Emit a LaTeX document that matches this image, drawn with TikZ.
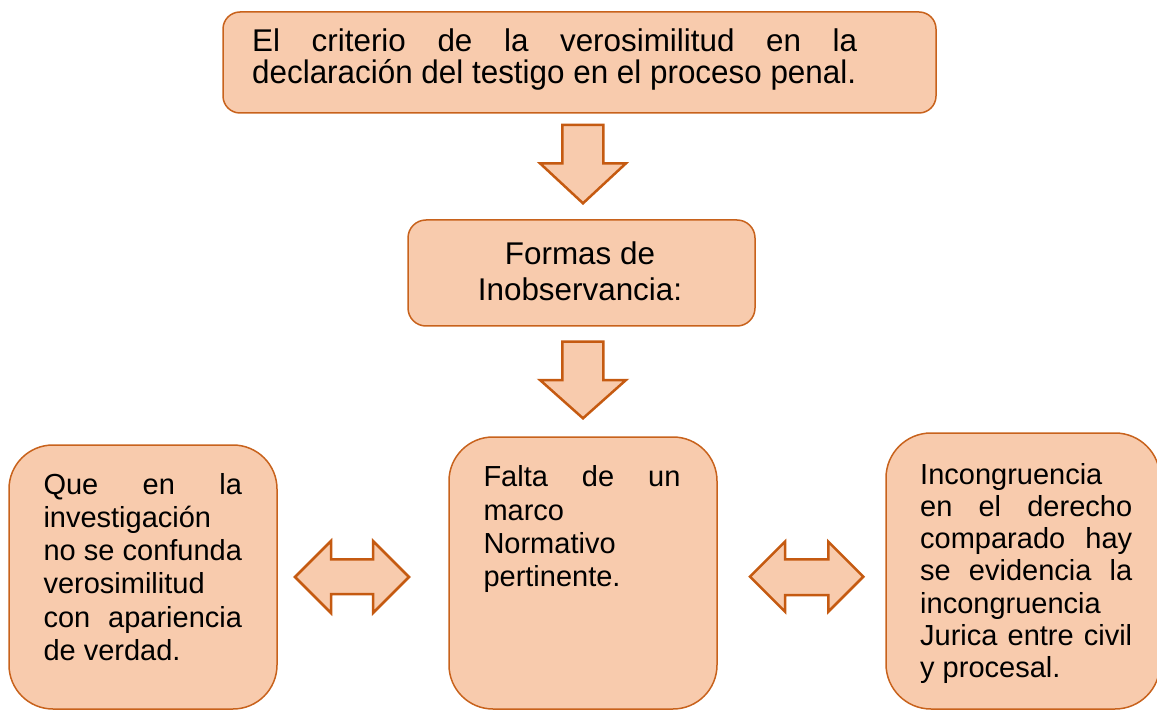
\documentclass[tikz,border=0pt]{standalone}
\usepackage{fontspec}
\setmainfont{Liberation Sans}
\definecolor{boxfill}{RGB}{248,203,173}
\definecolor{boxline}{RGB}{200,98,28}
\definecolor{arrline}{RGB}{197,90,17}
\newcommand\jline[1]{\makebox[\linewidth][s]{#1}\\}
\tikzset{
  box/.style={draw=boxline, fill=boxfill, line width=1.5pt, rectangle, rounded corners=#1, inner sep=0pt},
  txt/.style={anchor=base west, inner sep=0pt},
  barrow/.style={draw=arrline, fill=boxfill, line width=2.5pt, line join=miter}
}
\begin{document}
\begin{tikzpicture}[x=1pt,y=-1pt]
\useasboundingbox (0,0) rectangle (1157,711);
% boxes
\node[box=17, minimum width=713, minimum height=101] (top) at (579.5,62.5) {};
\node[box=18, minimum width=347, minimum height=106] (mid) at (581.5,273) {};
\node[box=44, minimum width=268, minimum height=264] (lbox) at (143,577) {};
\node[box=44, minimum width=268, minimum height=272] (cbox) at (583,573) {};
\node[box=45, minimum width=274, minimum height=276] (rbox) at (1023,571) {};
% texts
\node[txt] (ttop) at (252,51.7) {\parbox[t]{605pt}{\fontsize{31.4}{31.6}\selectfont\jline{El criterio de la verosimilitud en la}\scalebox{1}[1.04]{declaración del testigo en el proceso penal.}}};
\node[anchor=base, inner sep=0pt] (tmid) at (580,265) {\parbox[t]{320pt}{\centering\fontsize{31.4}{35.7}\selectfont Formas de\\Inobservancia:}};
\node[txt] (tl) at (43.3,494) {\parbox[t]{198.5pt}{\fontsize{29}{33.3}\selectfont\jline{Que en la}investigación\\\jline{no se confunda}verosimilitud\\\jline{con apariencia}de verdad.}};
\node[txt] (tc) at (483.3,486.7) {\parbox[t]{197pt}{\fontsize{29}{33.3}\selectfont\jline{Falta de un}marco\\Normativo\\pertinente.}};
\node[txt] (tr) at (920,484) {\parbox[t]{212pt}{\fontsize{29}{32.3}\selectfont Incongruencia\\\jline{en el derecho}\jline{comparado hay}\jline{se evidencia la}incongruencia\\\jline{Jurica entre civil}y procesal.}};
% block arrows
\draw[barrow] (562.3,125) -- (603.3,125) -- (603.3,163.3) -- (626,163.3) -- (583,203.3) -- (540,163.3) -- (562.3,163.3) -- cycle;
\draw[barrow] (562.3,341.7) -- (603.3,341.7) -- (603.3,380) -- (626,380) -- (583,418.3) -- (540,380) -- (562.3,380) -- cycle;
\draw[barrow] (295,577) -- (331,541) -- (331,559.3) -- (373,559.3) -- (373,541) -- (409,577) -- (373,613) -- (373,594) -- (331,594) -- (331,613) -- cycle;
\draw[barrow] (750,576.7) -- (785,541.7) -- (785,559.3) -- (828.3,559.3) -- (828.3,541.7) -- (863.3,576.7) -- (828.3,611.7) -- (828.3,595) -- (785,595) -- (785,611.7) -- cycle;
\end{tikzpicture}
\end{document}
